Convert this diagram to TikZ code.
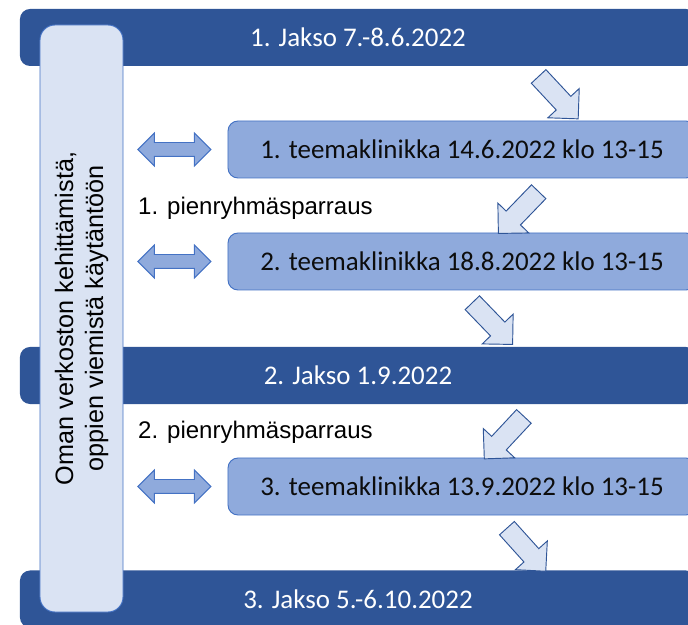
\documentclass[tikz,border=0pt]{standalone}
\usepackage{fontspec}
\newfontfamily\calibri{Carlito}
\newfontfamily\arial{Liberation Sans}
\usetikzlibrary{shapes.arrows,positioning}
\definecolor{jaksoblue}{HTML}{2F5597}
\definecolor{midblue}{HTML}{8FAADC}
\definecolor{edgeblue}{HTML}{4472C4}
\definecolor{paleblue}{HTML}{DAE3F3}

\begin{document}
\begin{tikzpicture}[
            x=0.03cm, y=-0.03cm,
            jakso/.style={
                rectangle,
                rounded corners=0.3cm,
                fill=jaksoblue,
                minimum width=20.28cm,
                minimum height=1.71cm,
                inner sep=0pt,
                text=white,
                font=\calibri\fontsize{23}{27}\selectfont
            },
            klinikka/.style={
                rectangle,
                rounded corners=0.3cm,
                draw=edgeblue,
                fill=midblue,
                line width=0.8pt,
                minimum width=14.04cm,
                minimum height=1.71cm,
                inner sep=0pt,
                text=black!95,
                font=\calibri\fontsize{23}{27}\selectfont
            },
            sidebox/.style={
                rectangle,
                rounded corners=0.45cm,
                draw=edgeblue,
                fill=paleblue,
                line width=0.8pt,
                minimum width=17.61cm,
                minimum height=2.49cm,
                inner sep=0pt,
                align=center,
                font=\arial\fontsize{21.5}{25.6}\selectfont
            },
            twoway/.style={
                double arrow,
                draw=edgeblue,
                fill=midblue,
                line width=0.8pt,
                inner xsep=0pt,
                inner ysep=0.195cm,
                double arrow head extend=0.285cm,
                minimum height=2.19cm
            },
            flowarrow/.style={
                single arrow,
                draw=jaksoblue,
                fill=paleblue,
                line width=0.8pt,
                inner xsep=0pt,
                inner ysep=0.285cm,
                single arrow head extend=0.345cm,
                minimum height=1.74cm
            },
            pien/.style={
                anchor=west,
                inner sep=0pt,
                font=\arial\fontsize{20.5}{24}\selectfont
            },
        ]

            \useasboundingbox (0,0) rectangle (688,625);
            \clip (0,0) rectangle (688,625);

            % jaksot
            \node[jakso] (J1) at (358,37.5) {1. Jakso 7.-8.6.2022};
            \node[jakso] (J2) at (358,375.5) {2. Jakso 1.9.2022};
            \node[jakso] (J3) at (358,599) {3. Jakso 5.-6.10.2022};

            \node[sidebox, rotate=90] (S) at (81.5,318.5) {Oman verkoston kehittämistä,\\ oppien viemistä käytäntöön};

            % teemaklinikat
            \node[klinikka] (K1) at (462,149.5) {1. teemaklinikka 14.6.2022 klo 13-15};
            \node[klinikka] (K2) at (462,261.5) {2. teemaklinikka 18.8.2022 klo 13-15};
            \node[klinikka] (K3) at (462,486.5) {3. teemaklinikka 13.9.2022 klo 13-15};

            \node[twoway] (D1) [left=0.48cm of K1] {};
            \node[twoway] (D2) [left=0.48cm of K2] {};
            \node[twoway] (D3) [left=0.48cm of K3] {};

            \node[pien] (P1) at (138,208) {1. pienryhmäsparraus};
            \node[pien] (P2) at (138,432) {2. pienryhmäsparraus};

            % nuolet
            \node[flowarrow, rotate=-47] (A1) at (555,94) {};
            \node[flowarrow, rotate=-134] (A2) at (522,209) {};
            \node[flowarrow, rotate=-46] (A3) at (489,320) {};
            \node[flowarrow, rotate=-133] (A4) at (507.5,434) {};
            \node[flowarrow, rotate=-48] (A5) at (523,546) {};
        \end{tikzpicture}
\end{document}
